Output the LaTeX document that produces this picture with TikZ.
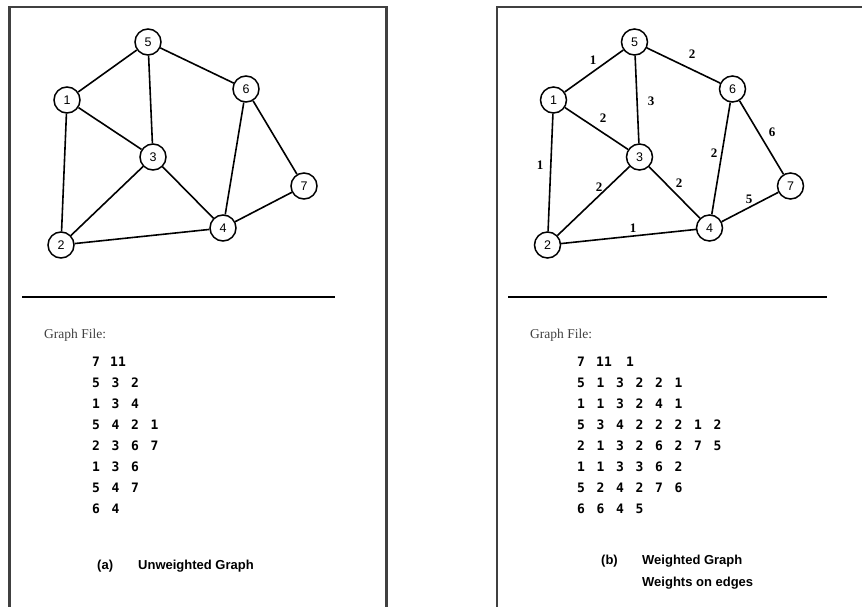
\documentclass[tikz,border=0pt]{standalone}
\usepackage{fontspec}
\setmainfont{Liberation Serif}
\setsansfont{Liberation Sans}
\setmonofont{DejaVu Sans Mono}
\begin{document}
\begin{tikzpicture}[x=1pt, y=-1pt,
  vertex/.style={circle, draw, line width=1.5pt, minimum size=26pt, inner sep=0pt, font=\sffamily\fontsize{12.5}{12.5}\selectfont},
  link/.style={line width=1.6pt},
  wt/.style={inner sep=0pt, font=\bfseries\fontsize{13}{13}\selectfont},
  num/.style={anchor=west, inner sep=0pt, font=\ttfamily\bfseries\fontsize{13}{13}\selectfont},
  frame/.style={line width=2.2pt, black!75},
  rule/.style={line width=1.6pt},
  title/.style={anchor=base west, inner sep=0pt, black!75, font=\fontsize{13.5}{13.5}\selectfont},
  caption/.style={anchor=base west, inner sep=0pt, font=\sffamily\bfseries\fontsize{13}{13}\selectfont}]
\useasboundingbox (0,0) rectangle (862,607);

% panel frames and rules
\draw[frame] (9.5,607) -- (9.5,7) -- (386.5,7) -- (386.5,607);
\draw[frame] (497,607) -- (497,7) -- (862,7);
\draw[rule] (22,297) -- (335,297);
\draw[rule] (508,297) -- (827,297);

% the same graph in both panels
\foreach \p/\dx in {a/0, b/486.5} {
  \begin{scope}[xshift=\dx]
  \node[vertex] (\p5) at (148,42) {5};
  \node[vertex] (\p1) at (67,100) {1};
  \node[vertex] (\p6) at (246,89) {6};
  \node[vertex] (\p3) at (153,157) {3};
  \node[vertex] (\p7) at (304,186) {7};
  \node[vertex] (\p4) at (223,228) {4};
  \node[vertex] (\p2) at (61,245) {2};
  \draw[link] (\p1) -- (\p5) (\p5) -- (\p3) (\p5) -- (\p6)
    (\p1) -- (\p3) (\p1) -- (\p2) (\p3) -- (\p2) (\p3) -- (\p4)
    (\p6) -- (\p4) (\p6) -- (\p7) (\p4) -- (\p7) (\p2) -- (\p4);
  \end{scope}
}

% weights
\node[wt] (w15) at (593,60) {1};
\node[wt] (w56) at (692,54) {2};
\node[wt] (w53) at (651,101) {3};
\node[wt] (w13) at (603,118) {2};
\node[wt] (w12) at (540,165) {1};
\node[wt] (w32) at (599,187) {2};
\node[wt] (w34) at (679,183) {2};
\node[wt] (w64) at (714,153) {2};
\node[wt] (w67) at (772,132) {6};
\node[wt] (w47) at (749,199) {5};
\node[wt] (w24) at (633,228) {1};

% graph files
\node[title] (a-title) at (44,338) {Graph File:};
\node[num] (a0-0) at (92,362) {7};
\node[num] (a0-1) at (110,362) {11};
\foreach \row [count=\r] in {{5,3,2},{1,3,4},{5,4,2,1},{2,3,6,7},{1,3,6},{5,4,7},{6,4}}
  \foreach \v [count=\c from 0] in \row
    \node[num] (a\r-\c) at (92+19.5*\c, 362+21*\r) {\v};

\node[title] (b-title) at (530,338) {Graph File:};
\node[num] (b0-0) at (577,362) {7};
\node[num] (b0-1) at (596,362) {11};
\node[num] (b0-2) at (626,362) {1};
\foreach \row [count=\r] in {{5,1,3,2,2,1},{1,1,3,2,4,1},{5,3,4,2,2,2,1,2},{2,1,3,2,6,2,7,5},{1,1,3,3,6,2},{5,2,4,2,7,6},{6,6,4,5}}
  \foreach \v [count=\c from 0] in \row
    \node[num] (b\r-\c) at (577+19.5*\c, 362+21*\r) {\v};

% captions
\node[caption] (a-tag) at (97,569) {(a)};
\node[caption] (a-cap) at (138,569) {Unweighted Graph};
\node[caption] (b-tag) at (601,564) {(b)};
\node[caption] (b-cap) at (642,564) {Weighted Graph};
\node[caption] (b-note) at (642,586) {Weights on edges};
\end{tikzpicture}
\end{document}
